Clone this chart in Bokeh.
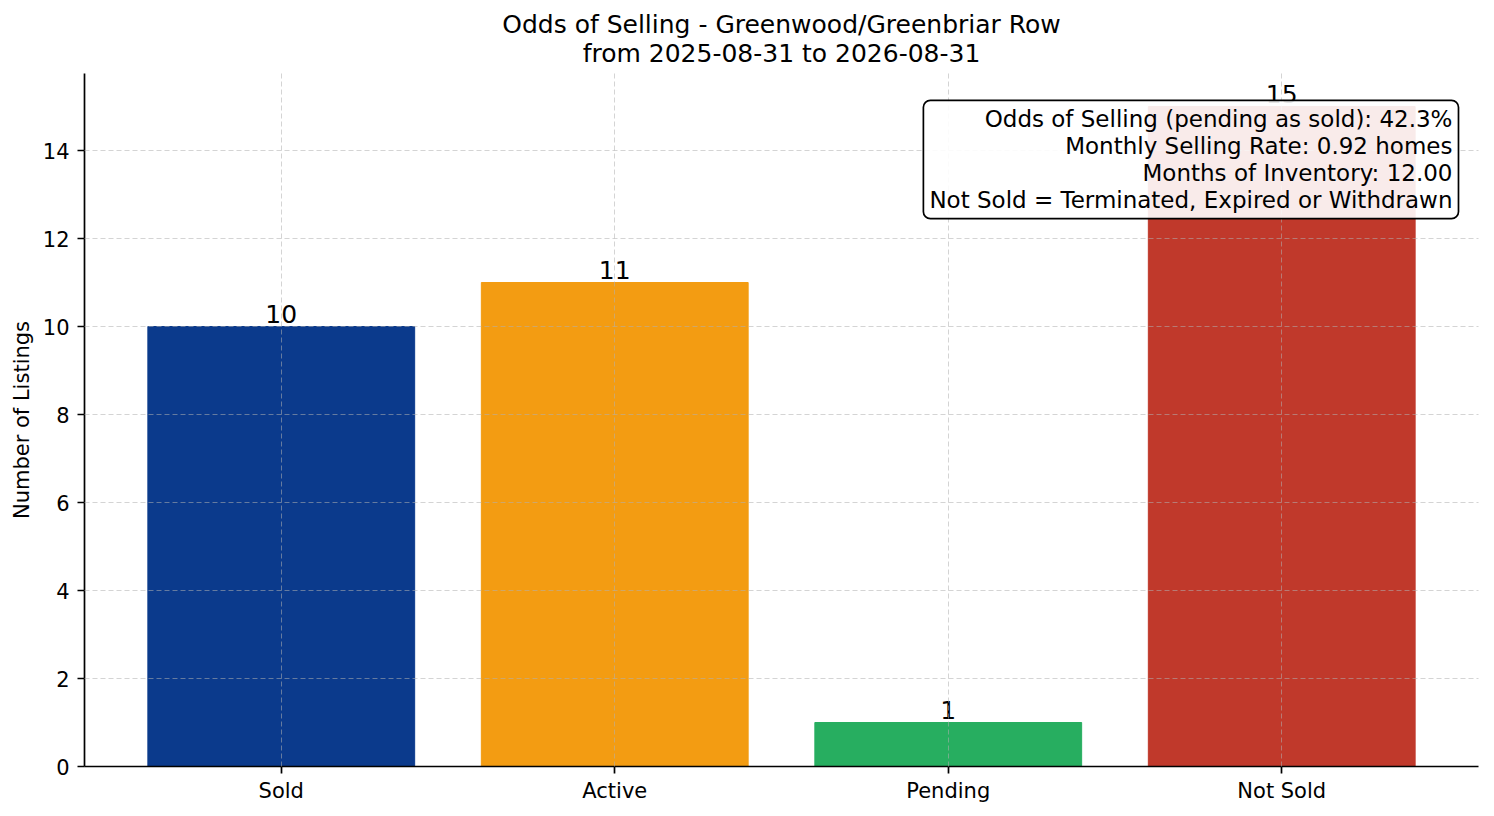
from bokeh.plotting import figure
from bokeh.models import ColumnDataSource, Label, SingleIntervalTicker, Range1d, Title
from bokeh.core.properties import value
from bokeh.embed import file_html
from bokeh.resources import INLINE

# data
statuses = ['Sold', 'Active', 'Pending', 'Not Sold']
counts = [10, 11, 1, 15]
colors = ['#0b3a8c', '#f39c12', '#27ae60', '#c0392b']
title_lines = ['Odds of Selling - Greenwood/Greenbriar Row', 'from 2025-08-31 to 2026-08-31']
stats_lines = ['Odds of Selling (pending as sold): 42.3%',
               'Monthly Selling Rate: 0.92 homes',
               'Months of Inventory: 12.00',
               'Not Sold = Terminated, Expired or Withdrawn']

FONT = 'DejaVu Sans'

src = ColumnDataSource(data=dict(status=statuses, count=counts, color=colors,
                                 label=[str(c) for c in counts]))

p = figure(x_range=statuses, y_range=Range1d(0, max(counts) * 1.05),
           width=1486, height=808, output_backend="svg", toolbar_location=None,
           min_border_left=84, min_border_right=8, min_border_top=73, min_border_bottom=42)
p.x_range.range_padding = 0.045

p.vbar(x='status', top='count', width=0.8, color='color', source=src)
p.text(x='status', y='count', text='label', source=src, text_align='center',
       text_baseline='bottom', text_font_size='25px', text_font=value(FONT),
       text_color='black', y_offset=-4)

# two centred title lines; the one added last sits on top
for line, standoff in zip(reversed(title_lines), (11, -14)):
    t = Title(text=line, align='center', text_font=FONT, text_font_size='25px',
              text_font_style='normal', text_color='black', text_line_height=1.0,
              standoff=standoff)
    p.add_layout(t, 'above')

p.outline_line_color = None
p.background_fill_color = 'white'
p.border_fill_color = 'white'

for ax in (p.xaxis, p.yaxis):
    ax.axis_line_color = 'black'
    ax.axis_line_width = 1.7
    ax.major_tick_line_color = 'black'
    ax.major_tick_line_width = 1.7
    ax.major_tick_out = 7
    ax.major_tick_in = 0
    ax.minor_tick_line_color = None
    ax.major_label_text_font = FONT
    ax.major_label_text_font_size = '21px'
    ax.major_label_text_color = 'black'
    ax.axis_label_text_font = FONT
    ax.axis_label_text_font_size = '21px'
    ax.axis_label_text_font_style = 'normal'
    ax.axis_label_text_color = 'black'

p.yaxis.ticker = SingleIntervalTicker(interval=2)
p.yaxis.axis_label = 'Number of Listings'
p.yaxis.major_label_standoff = 8
p.yaxis.axis_label_standoff = 6
p.xaxis.major_label_standoff = 5

for g in (p.xgrid, p.ygrid):
    g.grid_line_color = '#b0b0b0'
    g.grid_line_alpha = 0.55
    g.grid_line_dash = '5 3'
    g.grid_line_width = 1
    g.level = 'guide'

box = Label(x=4.03, y=15.14, text="\n".join(stats_lines), text_align='right',
            text_baseline='top', text_font=FONT, text_font_size='23px',
            text_line_height=1.03,
            text_color='black', background_fill_color='white', background_fill_alpha=0.9,
            border_line_color='black', border_line_width=1.7, border_radius=7,
            padding=6)
p.add_layout(box)

open("out.html", "w").write(file_html(p, INLINE))
